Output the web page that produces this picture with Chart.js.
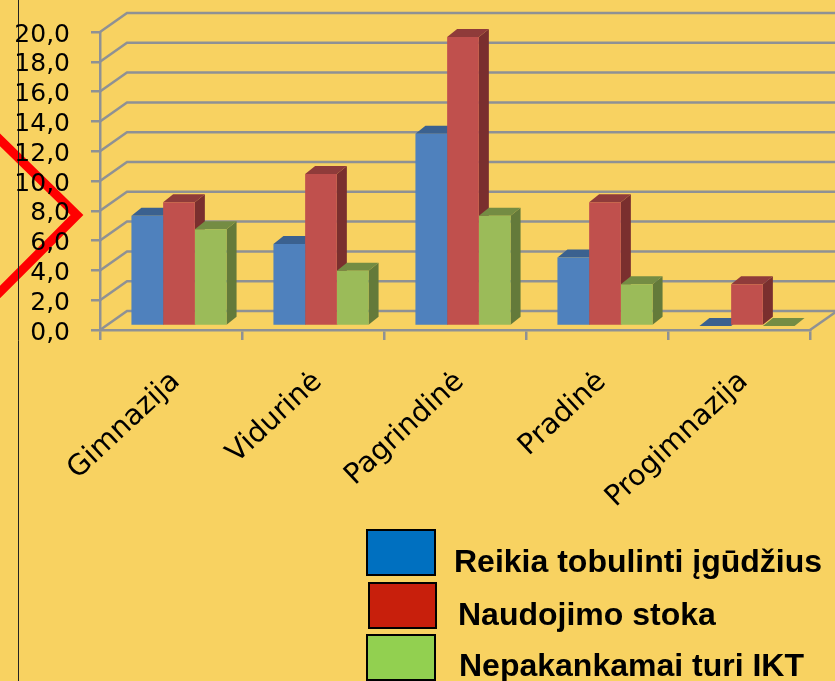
<!DOCTYPE html>
<html lang="lt">
<head>
<meta charset="utf-8">
<title>IKT</title>
<style>
  html, body { margin: 0; padding: 0; background: #f8d261; }
  #wrap { position: relative; width: 835px; height: 681px; overflow: hidden; }
  #chart { position: absolute; left: 0; top: 0; }
  .box { position: absolute; box-sizing: border-box; border: 2px solid #000; }
  .lbl { position: absolute; font: bold 32px "Liberation Sans", Arial, sans-serif; line-height: 30px; color: #000; white-space: nowrap; }
  #box0 { left: 366px; top: 529px; width: 70px; height: 47px; }
  #box1 { left: 368px; top: 582px; width: 69px; height: 47px; }
  #box2 { left: 366px; top: 634px; width: 70px; height: 47px; }
  #lbl0 { left: 454px; top: 546px; }
  #lbl1 { left: 458px; top: 599px; }
  #lbl2 { left: 459px; top: 650px; }
</style>
</head>
<body>
<div id="wrap">
  <canvas id="chart" width="835" height="681"></canvas>
  <div class="box" id="box0"></div><div class="lbl" id="lbl0"></div>
  <div class="box" id="box1"></div><div class="lbl" id="lbl1"></div>
  <div class="box" id="box2"></div><div class="lbl" id="lbl2"></div>
</div>
<script src="https://cdn.jsdelivr.net/npm/chart.js@4"></script>
<script>
const categories = ['Gimnazija', 'Vidurinė', 'Pagrindinė', 'Pradinė', 'Progimnazija'];
const seriesNames = ['Reikia tobulinti įgūdžius', 'Naudojimo stoka', 'Nepakankamai turi IKT'];
const reikiaTobulinti = [7.4, 5.5, 12.9, 4.6, 0];
const naudojimoStoka = [8.3, 10.2, 19.4, 8.3, 2.8];
const nepakankamaiTuri = [6.5, 3.7, 7.4, 2.8, 0];

const frontColors = ['#4f81bd', '#c0504d', '#9bbb59'];
const topColors = ['#3b618f', '#8f3b3a', '#748c43'];
const sideColors = ['#2f4d71', '#7a2f2e', '#647a3a'];
const legendColors = ['#0070c0', '#c81f0c', '#92d050'];

const GRID = '#8f9194';
// fake 3d: wall depth, bar depth, and how far bars sit in from the front edge
const WALL_DX = 27, WALL_DY = -19;
const BAR_DX = 10, BAR_DY = -8;
const BAR_SHIFT_X = 8, BAR_SHIFT_Y = -4;

seriesNames.forEach((name, i) => {
   document.getElementById('lbl' + i).textContent = name;
   document.getElementById('box' + i).style.background = legendColors[i];
});

function poly(ctx, pts, color) {
   ctx.fillStyle = color;
   ctx.beginPath();
   pts.forEach((p, i) => i ? ctx.lineTo(p[0], p[1]) : ctx.moveTo(p[0], p[1]));
   ctx.closePath();
   ctx.fill();
}

const fake3d = {
   id: 'fake3d',
   beforeDraw(chart) {
      const ctx = chart.ctx;
      ctx.save();
      // arrow shape and the thin line from the slide behind the chart
      ctx.strokeStyle = '#ff0000';
      ctx.lineWidth = 9;
      ctx.lineJoin = 'miter';
      ctx.beginPath();
      ctx.moveTo(-6, 134);
      ctx.lineTo(77, 215);
      ctx.lineTo(-6, 298);
      ctx.stroke();
      ctx.strokeStyle = '#222';
      ctx.lineWidth = 1;
      ctx.beginPath();
      ctx.moveTo(18.5, 0);
      ctx.lineTo(18.5, 681);
      ctx.stroke();
      ctx.restore();
   },
   beforeDatasetsDraw(chart) {
      const ctx = chart.ctx;
      const { left, right, bottom } = chart.chartArea;
      const y = chart.scales.y;
      ctx.save();
      ctx.strokeStyle = GRID;
      ctx.lineWidth = 2.5;
      y.ticks.forEach(t => {
         const py = y.getPixelForValue(t.value);
         ctx.beginPath();
         ctx.moveTo(left, py);
         ctx.lineTo(left + WALL_DX, py + WALL_DY);
         ctx.lineTo(right + WALL_DX, py + WALL_DY);
         ctx.stroke();
      });
      ctx.beginPath();
      ctx.moveTo(right, bottom);
      ctx.lineTo(right + WALL_DX, bottom + WALL_DY);
      ctx.stroke();

      // chart.js paints the first dataset last, so the tops and sides go down
      // first here, left to right, and the fronts then cover what they should
      ctx.translate(BAR_SHIFT_X, BAR_SHIFT_Y);
      chart.data.datasets.forEach((ds, index) => {
         chart.getDatasetMeta(index).data.forEach(bar => {
            const w = bar.width / 2;
            const l = bar.x - w, r = bar.x + w;
            poly(ctx, [[r, bar.y], [r + BAR_DX, bar.y + BAR_DY], [r + BAR_DX, bar.base + BAR_DY], [r, bar.base]], sideColors[index]);
            poly(ctx, [[l, bar.y], [l + BAR_DX, bar.y + BAR_DY], [r + BAR_DX, bar.y + BAR_DY], [r, bar.y]], topColors[index]);
         });
      });
      ctx.restore();
   },
   beforeDatasetDraw(chart) {
      chart.ctx.save();
      chart.ctx.translate(BAR_SHIFT_X, BAR_SHIFT_Y);
   },
   afterDatasetDraw(chart) {
      chart.ctx.restore();
   }
};

new Chart(document.getElementById('chart'), {
   type: 'bar',
   data: {
      labels: categories,
      datasets: [reikiaTobulinti, naudojimoStoka, nepakankamaiTuri].map((values, i) => ({
         label: seriesNames[i],
         data: values,
         backgroundColor: frontColors[i],
         categoryPercentage: 0.67,
         barPercentage: 1,
         clip: false
      }))
   },
   options: {
      responsive: false,
      animation: false,
      layout: { padding: { top: 32, right: 25, left: 0, bottom: 0 } },
      plugins: { legend: { display: false }, tooltip: { enabled: false } },
      scales: {
         y: {
            min: 0,
            max: 20,
            afterFit: scale => {
               scale.width = 100;
               scale.paddingTop = 0;
               scale.paddingBottom = 0;
            },
            ticks: {
               stepSize: 2,
               autoSkip: false,
               color: '#000',
               padding: 21,
               labelOffset: 3,
               font: { family: "'DejaVu Sans'", size: 25 },
               callback: value => value.toFixed(1).replace('.', ',')
            },
            grid: { drawOnChartArea: false, color: GRID, lineWidth: 2.5, tickLength: 9 },
            border: { color: GRID, width: 2.5 }
         },
         x: {
            afterFit: scale => { scale.height = 351; },
            ticks: {
               color: '#000',
               padding: 25,
               labelOffset: 5,
               autoSkip: false,
               minRotation: 43,
               maxRotation: 43,
               font: { family: "'DejaVu Sans'", size: 28.5 }
            },
            grid: { drawOnChartArea: false, color: GRID, lineWidth: 2.5, tickLength: 10 },
            border: { color: GRID, width: 2.5 }
         }
      }
   },
   plugins: [fake3d]
});
</script>
</body>
</html>
